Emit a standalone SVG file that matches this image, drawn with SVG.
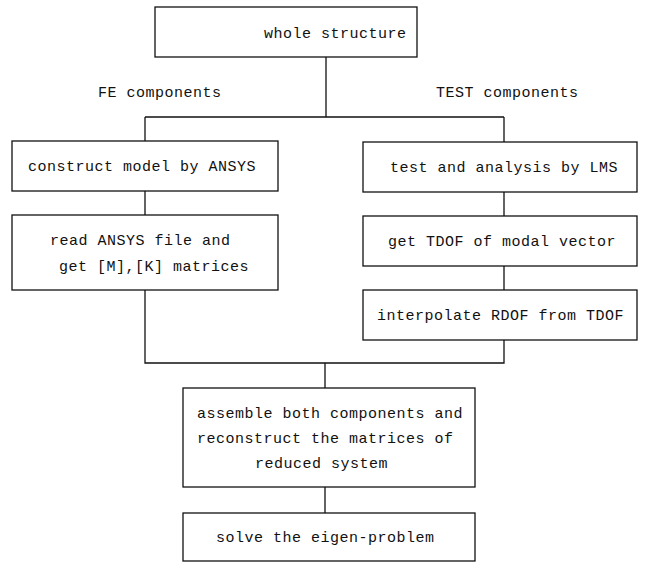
<svg xmlns="http://www.w3.org/2000/svg" width="645" height="566" viewBox="0 0 645 566">
<style>
.box{fill:#fff;stroke:#111;stroke-width:1.3}
.ln{fill:none;stroke:#111;stroke-width:1.3}
text{font-family:"Liberation Mono","DejaVu Sans Mono",monospace;font-size:15px;letter-spacing:0.5px;fill:#111}
</style>
<rect width="645" height="566" fill="#fff"/>
<g id="connectors">
<path class="ln" d="M326 57V117M145 117H504M145 117V141M504 117V142"/>
<path class="ln" d="M145 191V215M504 192V216M504 266V290"/>
<path class="ln" d="M145 290V363H504V340M325 363V388M325 487V513"/>
</g>
<g id="whole">
<rect class="box" x="155" y="7" width="262" height="50"/>
<text x="264" y="38">whole structure</text>
</g>
<g id="labelFE"><text x="98" y="97">FE components</text></g>
<g id="labelTEST"><text x="436" y="97">TEST components</text></g>
<g id="construct">
<rect class="box" x="12" y="141" width="266" height="50"/>
<text x="28" y="171">construct model by ANSYS</text>
</g>
<g id="read">
<rect class="box" x="12" y="215" width="266" height="75"/>
<text x="50" y="245">read ANSYS file and</text>
<text x="59" y="271">get [M],[K] matrices</text>
</g>
<g id="test">
<rect class="box" x="363" y="142" width="274" height="50"/>
<text x="390" y="172">test and analysis by LMS</text>
</g>
<g id="tdof">
<rect class="box" x="363" y="216" width="274" height="50"/>
<text x="388" y="246">get TDOF of modal vector</text>
</g>
<g id="interp">
<rect class="box" x="363" y="290" width="274" height="50"/>
<text x="377" y="320">interpolate RDOF from TDOF</text>
</g>
<g id="assemble">
<rect class="box" x="183" y="388" width="292" height="99"/>
<text x="197" y="418">assemble both components and</text>
<text x="197" y="443">reconstruct the matrices of</text>
<text x="255" y="468">reduced system</text>
</g>
<g id="solve">
<rect class="box" x="183" y="513" width="292" height="48"/>
<text x="216" y="542">solve the eigen-problem</text>
</g>
</svg>
